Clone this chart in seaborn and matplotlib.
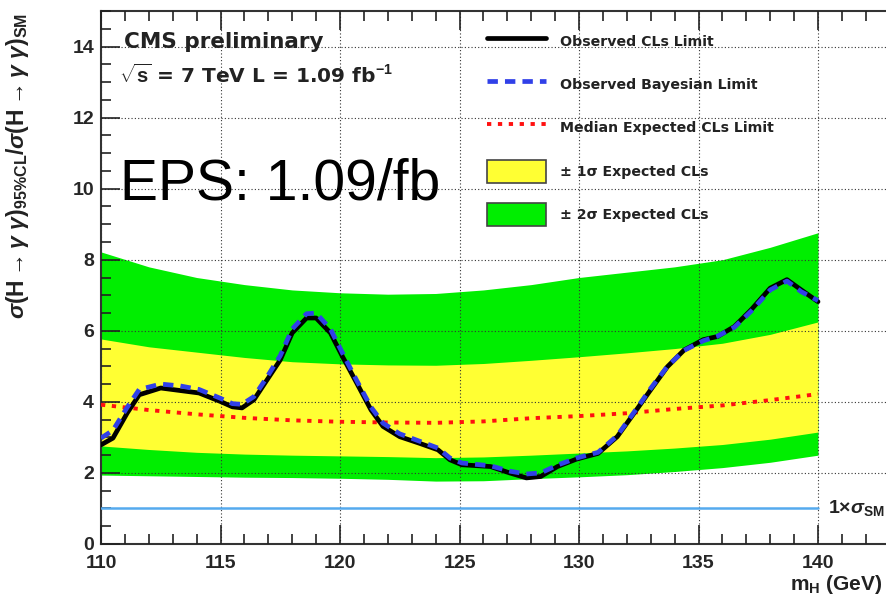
import numpy as np
import pandas as pd
import matplotlib
matplotlib.use("Agg")
import matplotlib.pyplot as plt
import seaborn as sns
from matplotlib.patches import Patch
from matplotlib.lines import Line2D
from matplotlib.ticker import MultipleLocator

# ---------------- data ----------------
mass_band = [110, 112, 114, 116, 118, 120, 122, 124, 126, 128, 130, 132, 134, 136, 138, 140]
up2 = [8.22, 7.80, 7.50, 7.30, 7.15, 7.07, 7.03, 7.05, 7.15, 7.30, 7.50, 7.65, 7.80, 8.00, 8.35, 8.76]
up1 = [5.77, 5.55, 5.40, 5.25, 5.13, 5.07, 5.04, 5.03, 5.08, 5.17, 5.27, 5.38, 5.50, 5.65, 5.90, 6.25]
median = [3.92, 3.77, 3.65, 3.55, 3.48, 3.44, 3.42, 3.41, 3.45, 3.54, 3.60, 3.68, 3.80, 3.90, 4.05, 4.22]
dn1 = [2.76, 2.66, 2.58, 2.53, 2.50, 2.48, 2.46, 2.43, 2.45, 2.50, 2.56, 2.62, 2.70, 2.80, 2.95, 3.15]
dn2 = [1.94, 1.92, 1.90, 1.88, 1.87, 1.85, 1.82, 1.77, 1.78, 1.84, 1.89, 1.95, 2.04, 2.15, 2.30, 2.50]

mass_obs = [110, 110.5, 111.1, 111.6, 112.5, 113.3, 114.1, 115, 115.5, 115.9, 116.4, 116.9,
            117.5, 118, 118.6, 119, 119.6, 120.1, 120.7, 121.3, 121.8, 122.5, 123.3, 124.1,
            124.6, 125.1, 126.3, 127.1, 127.8, 128.4, 129.1, 129.9, 130.8, 131.6, 132.4, 133,
            133.7, 134.4, 135.2, 135.8, 136.5, 137.2, 138, 138.7, 139.3, 140]
obs_cls = [2.79, 2.98, 3.69, 4.20, 4.39, 4.32, 4.25, 4.01, 3.86, 3.83, 4.06, 4.57,
           5.18, 5.94, 6.36, 6.36, 5.94, 5.28, 4.53, 3.77, 3.31, 3.02, 2.84, 2.65,
           2.37, 2.23, 2.18, 2.00, 1.86, 1.90, 2.18, 2.39, 2.55, 3.02, 3.77, 4.34,
           4.99, 5.46, 5.75, 5.84, 6.12, 6.59, 7.20, 7.44, 7.15, 6.82]
obs_bayes = [2.98, 3.20, 3.85, 4.35, 4.50, 4.45, 4.35, 4.10, 3.95, 3.93, 4.15, 4.65,
             5.30, 6.05, 6.48, 6.50, 6.05, 5.38, 4.60, 3.85, 3.40, 3.10, 2.90, 2.70,
             2.42, 2.28, 2.20, 2.05, 1.97, 2.00, 2.22, 2.42, 2.58, 3.05, 3.80, 4.38,
             5.00, 5.45, 5.72, 5.85, 6.10, 6.55, 7.15, 7.40, 7.10, 6.85]
sm_mass = [110, 140]
sm_value = [1, 1]

x_ticks = [110, 115, 120, 125, 130, 135, 140]
y_ticks = [0, 2, 4, 6, 8, 10, 12, 14]

labels = ["Observed CLs Limit", "Observed Bayesian Limit", "Median Expected CLs Limit",
          "\u00b1 1\u03c3 Expected CLs", "\u00b1 2\u03c3 Expected CLs"]

# ---------------- figure ----------------
sns.set_theme(style="ticks")
plt.rcParams['font.family'] = ['Liberation Sans', 'DejaVu Sans']
plt.rcParams['mathtext.fontset'] = 'custom'
plt.rcParams['mathtext.rm'] = 'Liberation Sans:bold'
plt.rcParams['mathtext.it'] = 'Liberation Sans:italic:bold'
plt.rcParams['mathtext.bf'] = 'Liberation Sans:bold'

fig = plt.figure(figsize=(8.86, 6.01), dpi=100)
ax = fig.add_axes([101 / 886, 57 / 601, (1057 - 101) / 886, (544 - 11) / 601])

band = pd.DataFrame({"m": mass_band, "up2": up2, "up1": up1, "med": median, "dn1": dn1, "dn2": dn2})
obs = pd.DataFrame({"m": mass_obs, "cls": obs_cls, "bayes": obs_bayes})

GREEN = "#00ee00"
YELLOW = "#ffff33"
ax.fill_between(band["m"], band["dn2"], band["up2"], color=GREEN, lw=0, zorder=1)
ax.fill_between(band["m"], band["dn1"], band["up1"], color=YELLOW, lw=0, zorder=1.1)

sns.lineplot(x=sm_mass, y=sm_value, ax=ax, color="#55aaee", lw=1.8, zorder=3)
sns.lineplot(data=band, x="m", y="med", ax=ax, color="#ff1010", lw=2.8,
             linestyle=(0, (1.1, 1.7)), zorder=3)
sns.lineplot(data=obs, x="m", y="cls", ax=ax, color="black", lw=3.4, zorder=4, sort=False)
sns.lineplot(data=obs, x="m", y="bayes", ax=ax, color="#3040e8", lw=3.4,
             linestyle=(0, (2.2, 1.5)), zorder=5, sort=False)

ax.set_xlim(110, 150)
ax.set_ylim(0, 15)
ax.set_xlabel("")
ax.set_ylabel("")

ax.set_xticks(x_ticks)
ax.set_yticks(y_ticks)
ax.xaxis.set_minor_locator(MultipleLocator(1))
ax.yaxis.set_minor_locator(MultipleLocator(0.5))
ax.tick_params(which="both", direction="in", top=True, right=False, width=1.2, color="#222222")
ax.tick_params(which="major", length=14, labelsize=14, pad=5)
ax.tick_params(which="minor", length=7)
ax.tick_params(axis="x", pad=8)
for lab in ax.get_xticklabels() + ax.get_yticklabels():
    lab.set_fontweight("bold")

ax.grid(True, which="major", color="#333333", lw=0.8, linestyle=(0, (1, 2)))
ax.set_axisbelow(False)
for s in ax.spines.values():
    s.set_linewidth(1.5)
    s.set_color("#333333")

# texts
fig.text(124 / 886, 1 - 42 / 601, "CMS preliminary", fontsize=15.5,
         fontweight="bold", va="center", ha="left", color="#222222",
         family=["DejaVu Sans"])
fig.text(119 / 886, 1 - 75 / 601, r"$\sqrt{\mathrm{s}}$ = 7 TeV L = 1.09 fb$^{-1}$",
         fontsize=14.5, fontweight="bold", va="center", ha="left", color="#222222",
         family=["DejaVu Sans"])
fig.text(120 / 886, 1 - 185 / 601, "EPS: 1.09/fb", fontsize=41, va="center", ha="left", color="black")
fig.text(828 / 886, 1 - 508 / 601, r"1$\times\sigma_{\mathrm{SM}}$", fontsize=14, fontweight="bold",
         va="center", ha="left", color="#222222")
fig.text(790 / 886, 1 - 585 / 601, r"m$_{\mathrm{H}}$ (GeV)", fontsize=15, fontweight="bold",
         va="center", ha="left", color="#222222")
fig.text(18 / 886, 1 - 166 / 601,
         r"$\sigma$(H$\rightarrow\gamma\ \gamma$)$_{95\%\mathrm{CL}}$/$\sigma$(H$\rightarrow\gamma\ \gamma$)$_{\mathrm{SM}}$",
         rotation=90, fontsize=16.5, fontweight="bold", va="center", ha="center", color="#222222")

handles = [Line2D([], [], color="black", lw=3.4),
           Line2D([], [], color="#3040e8", lw=3.4, linestyle=(0, (2.2, 1.5))),
           Line2D([], [], color="#ff1010", lw=2.8, linestyle=(0, (1.1, 1.7))),
           Patch(facecolor=YELLOW, edgecolor="#444444", lw=1.2),
           Patch(facecolor=GREEN, edgecolor="#444444", lw=1.2)]
leg = fig.legend(handles, labels, loc="upper left", bbox_to_anchor=(474 / 886, 1 - 17 / 601),
                 frameon=False, handlelength=4.2, handleheight=2.1, labelspacing=1.45,
                 handletextpad=0.95, borderpad=0.4,
                 prop={"weight": "bold", "size": 10.2, "family": ["DejaVu Sans"]})
for t in leg.get_texts():
    t.set_color("#222222")

fig.savefig("out.png", dpi=100)
